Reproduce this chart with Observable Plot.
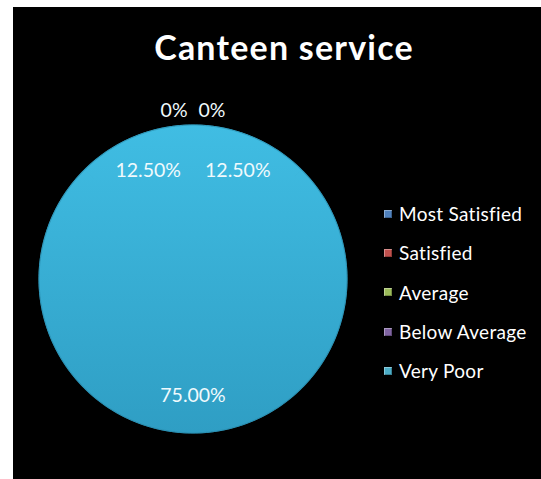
<!DOCTYPE html>
<html><head><meta charset="utf-8">
<script src="https://cdn.jsdelivr.net/npm/d3@7"></script>
<script src="https://cdn.jsdelivr.net/npm/@observablehq/plot@0.6"></script>
<style>
html,body{margin:0;padding:0;background:#fff;}
#frame{position:absolute;left:13px;top:7px;width:528px;height:472px;background:#000;overflow:hidden;font-family:Lato,"Open Sans",sans-serif;}
#title{position:absolute;left:271px;top:23px;transform:translateX(-50%);white-space:nowrap;color:#fff;font-weight:700;font-size:34px;letter-spacing:1.2px;line-height:1;}
#chart{position:absolute;left:0;top:0;}
#legend{position:absolute;left:371px;top:187px;}
.row{height:39.3px;display:flex;align-items:center;color:#fff;font-size:19px;letter-spacing:0.3px;line-height:1;}
.sw{flex:0 0 auto;display:inline-block;width:8px;height:8px;margin-right:7px;box-shadow:inset 1px 1px 0 rgba(255,255,255,0.35), inset -1px -1px 0 rgba(0,0,0,0.25);}
</style>
</head><body>
<div id="frame">
  <div id="chart"></div>
  <div id="title">Canteen service</div>
  <div id="legend"></div>
</div>
<script>
const categories = ["Most Satisfied", "Satisfied", "Average", "Below Average", "Very Poor"];
const shares = [0, 0, 0.125, 0.125, 0.75];
const legendColors = ["#4F81BD", "#C0504D", "#9BBB59", "#8064A2", "#4BACC6"];
const pieTop = "#40BDE3";
const pieBottom = "#2F9EC4";

const arcs = d3.pie().sort(null).value(d => d)
  .startAngle(-Math.PI / 4).endAngle(2 * Math.PI - Math.PI / 4)(shares);

const slicePts = [];
arcs.forEach((a, i) => {
  if (a.value <= 0) return;
  const key = categories[i];
  slicePts.push({key, x: 0, y: 0});
  const n = Math.max(2, Math.ceil((a.endAngle - a.startAngle) / (Math.PI / 180)));
  for (let k = 0; k <= n; k++) {
    const t = a.startAngle + (a.endAngle - a.startAngle) * k / n;
    slicePts.push({key, x: Math.sin(t), y: Math.cos(t)});
  }
  slicePts.push({key, x: 0, y: 0});
});

const rim = d3.range(0, 361).map(d => ({x: Math.sin(d * Math.PI / 180), y: Math.cos(d * Math.PI / 180)}));

const zeroIdx = arcs.map((a, i) => a.value === 0 ? i : -1).filter(i => i >= 0);
const labels = arcs.map((a, i) => {
  let ang, r;
  if (a.value === 0) {
    const j = zeroIdx.indexOf(i);
    ang = (j - (zeroIdx.length - 1) / 2) * 0.224;
    r = 1.1;
  } else {
    ang = (a.startAngle + a.endAngle) / 2;
    r = 0.76;
  }
  return {x: r * Math.sin(ang), y: r * Math.cos(ang), text: a.value === 0 ? "0%" : d3.format(".2%")(a.value)};
});

const chart = Plot.plot({
  width: 528, height: 472,
  x: {domain: [-1, 1], range: [25.5, 333.5], axis: null},
  y: {domain: [-1, 1], range: [425.5, 117.5], axis: null},
  style: {background: "transparent", fontFamily: "Lato, 'Open Sans', sans-serif"},
  marks: [
    Plot.line(slicePts, {x: "x", y: "y", z: "key", fill: "url(#pieGrad)", stroke: "url(#pieGrad)", strokeWidth: 1, curve: "linear"}),
    Plot.line(rim, {x: "x", y: "y", stroke: "#2a8cae", strokeWidth: 1.2, strokeOpacity: 0.6, curve: "linear"}),
    Plot.text(labels, {x: "x", y: "y", text: "text", fill: "#f0fafd", fontSize: 19.5})
  ]
});

const ys = chart.scale("y");
const ns = "http://www.w3.org/2000/svg";
const defs = document.createElementNS(ns, "defs");
const grad = document.createElementNS(ns, "linearGradient");
grad.setAttribute("id", "pieGrad");
grad.setAttribute("gradientUnits", "userSpaceOnUse");
grad.setAttribute("x1", "0"); grad.setAttribute("x2", "0");
grad.setAttribute("y1", ys.apply(1)); grad.setAttribute("y2", ys.apply(-1));
[[0, pieTop], [1, pieBottom]].forEach(([o, c]) => {
  const s = document.createElementNS(ns, "stop");
  s.setAttribute("offset", o); s.setAttribute("stop-color", c);
  grad.appendChild(s);
});
defs.appendChild(grad);
chart.insertBefore(defs, chart.firstChild);
document.getElementById("chart").appendChild(chart);

const legend = document.getElementById("legend");
categories.forEach((c, i) => {
  const row = document.createElement("div");
  row.className = "row";
  const sw = document.createElement("span");
  sw.className = "sw";
  sw.style.background = legendColors[i];
  const lab = document.createElement("span");
  lab.textContent = c;
  row.appendChild(sw); row.appendChild(lab);
  legend.appendChild(row);
});
</script>
</body></html>
